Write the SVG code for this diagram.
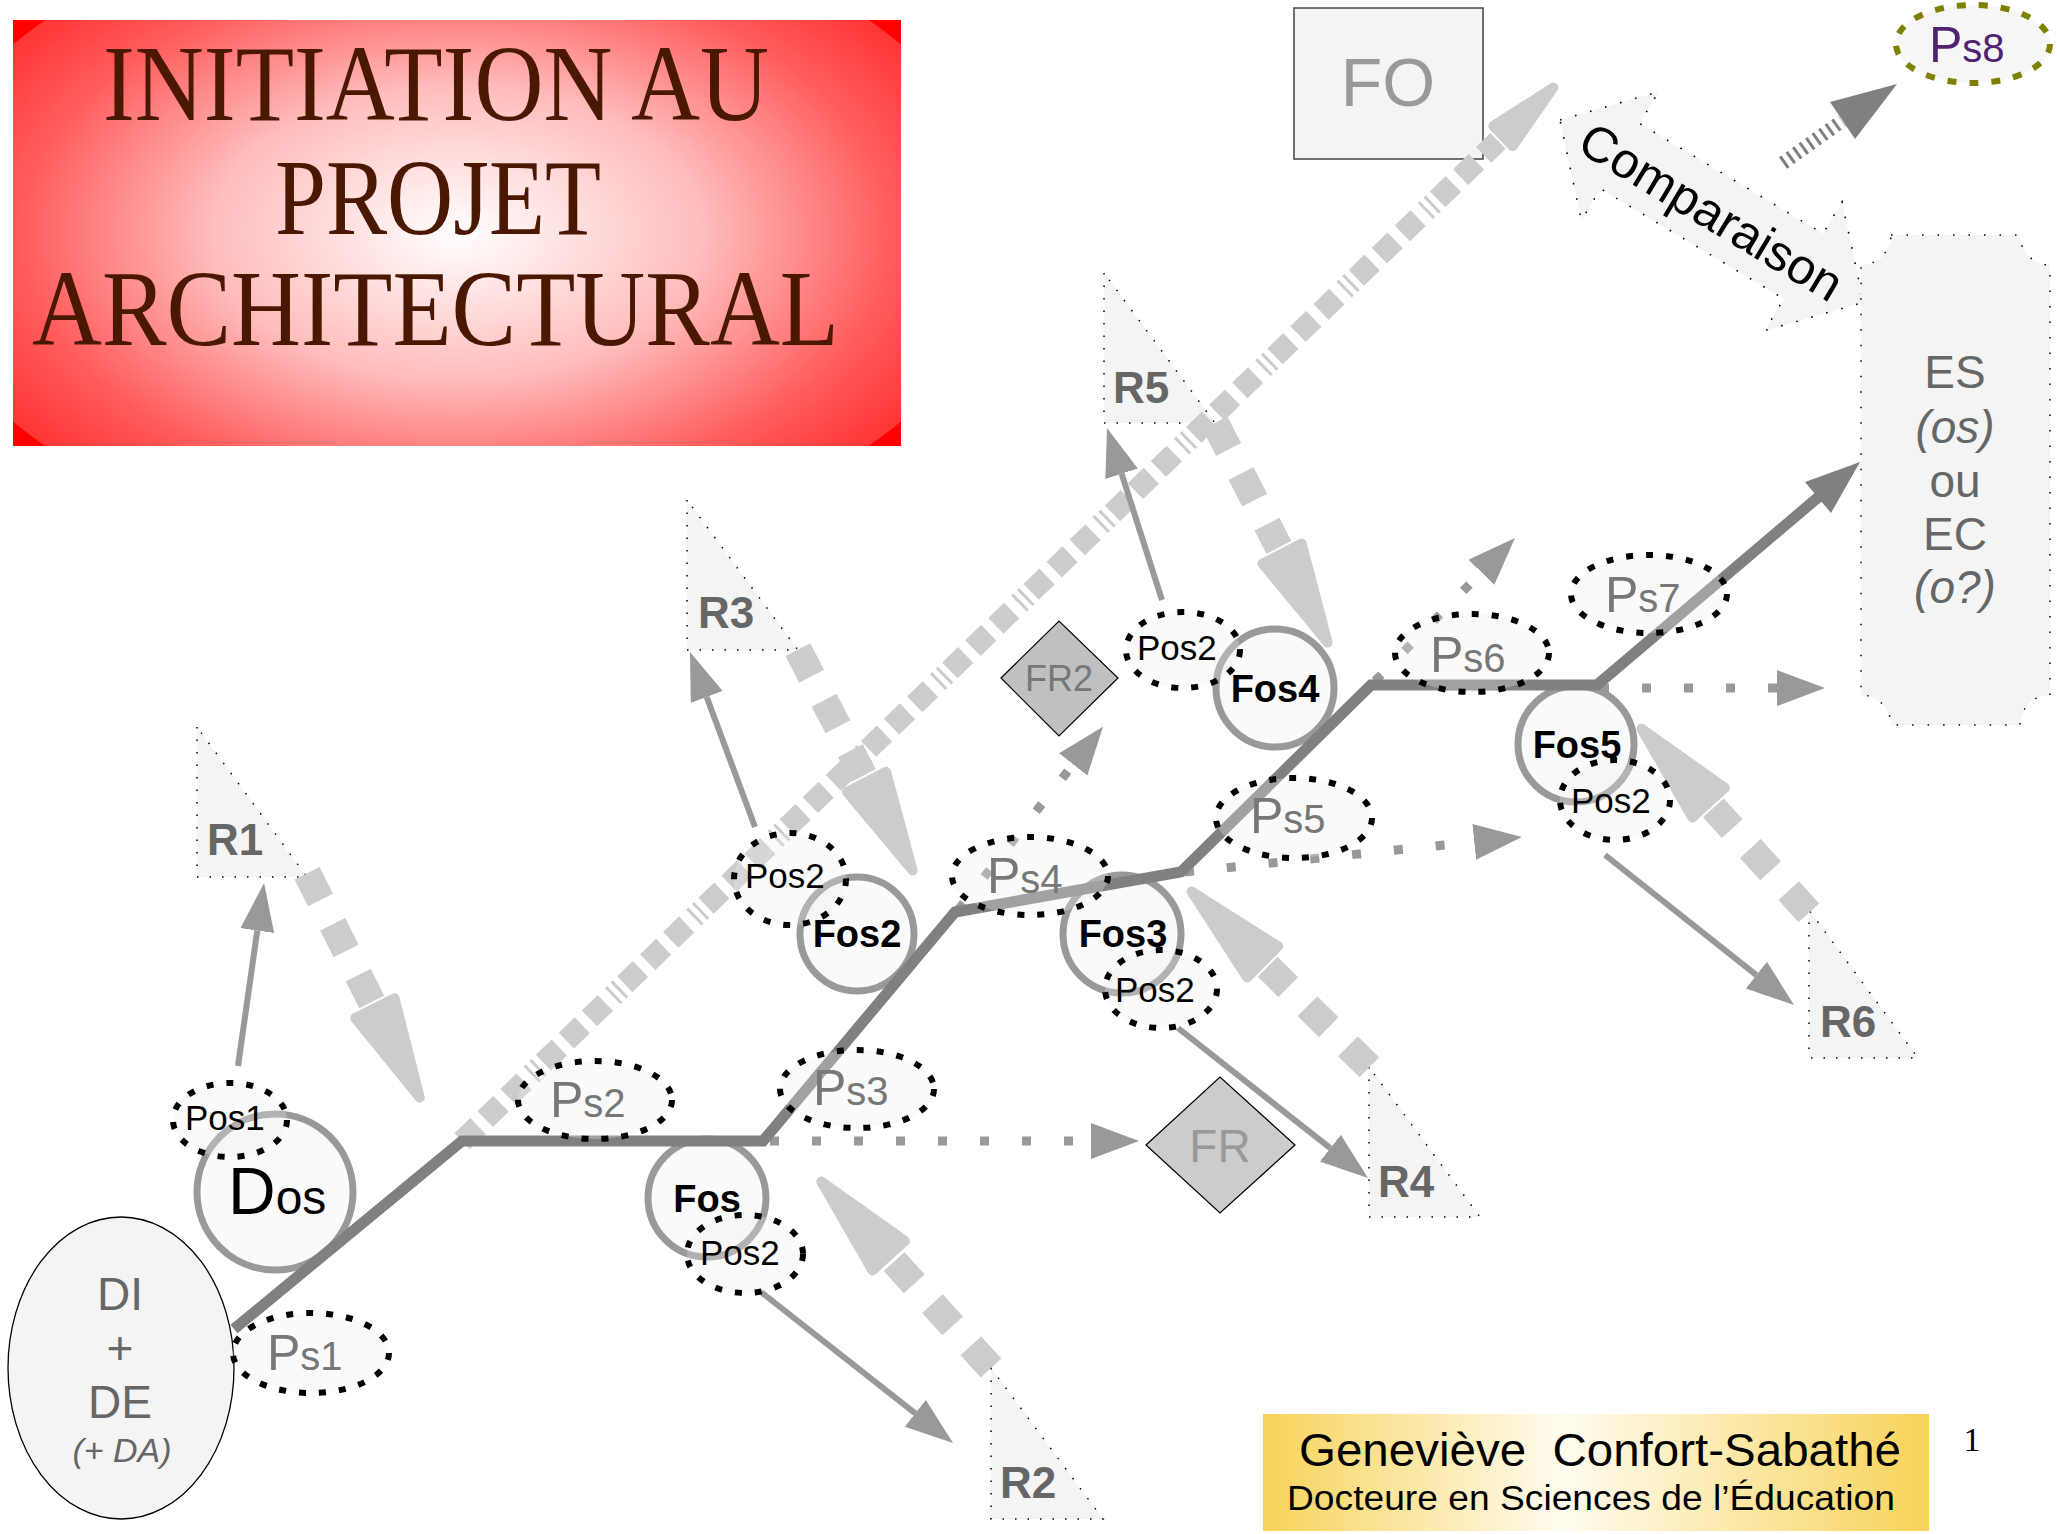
<svg xmlns="http://www.w3.org/2000/svg" width="2057" height="1534" viewBox="0 0 2057 1534">
<style>
.lbl{font-family:"Liberation Sans",Arial,sans-serif}
.ps{fill:#777}
.pos{fill:#000;font-size:35px}
.fos{font-weight:bold;font-size:38px;text-anchor:middle;fill:#000}
.r{font-weight:bold;font-size:44px;fill:#666}
.dell{fill:#eeeeee;fill-opacity:.3;stroke:#000;stroke-width:6;stroke-dasharray:7 13}
.circ{fill:#fafafa;stroke:#999;stroke-width:7}
.tri{fill:#f4f4f4;stroke:#000;stroke-width:1.5;stroke-dasharray:1.5 11}
.rdash{stroke:#ccc;stroke-width:28;stroke-dasharray:30 27;fill:none}
.rhead{fill:#ccc;stroke:#ccc;stroke-width:10;stroke-linejoin:round}
.thin{stroke:#999;stroke-width:6;fill:none;marker-end:url(#mThin)}
.dot{stroke:#999;stroke-width:9;stroke-dasharray:9 33;fill:none;marker-end:url(#mDot)}
.big{fill:#666;font-size:46px;text-anchor:middle}
</style>
<defs>
<radialGradient id="gTitle" gradientUnits="userSpaceOnUse" cx="457" cy="233" r="545" gradientTransform="translate(457,233) scale(1,0.596) translate(-457,-233)">
<stop offset="0" stop-color="#ffffff"/>
<stop offset="0.45" stop-color="#ffbcbc"/>
<stop offset="0.8" stop-color="#ff5c5c"/>
<stop offset="1" stop-color="#ff3535"/>
</radialGradient>
<clipPath id="cTitle"><rect x="13" y="20" width="888" height="426"/></clipPath>
<linearGradient id="gAuth" x1="0" y1="0" x2="1" y2="0">
<stop offset="0" stop-color="#f7d35a"/>
<stop offset="0.45" stop-color="#fffcf0"/>
<stop offset="1" stop-color="#f7d35a"/>
</linearGradient>
<marker id="mThin" markerUnits="userSpaceOnUse" markerWidth="50" markerHeight="36" refX="0" refY="17" orient="auto"><path d="M0,0 L48,17 L0,34 Z" fill="#999"/></marker>
<marker id="mDot" markerUnits="userSpaceOnUse" markerWidth="50" markerHeight="38" refX="0" refY="18" orient="auto"><path d="M0,0 L48,18 L0,36 Z" fill="#999"/></marker>
</defs>

<g id="title">
<rect x="13" y="20" width="888" height="426" fill="#ff0000"/>
<ellipse cx="457" cy="233" rx="545" ry="325" fill="url(#gTitle)" clip-path="url(#cTitle)"/>
<g font-family="'Liberation Serif','Times New Roman',serif" font-size="108" fill="#4a1800">
<text x="103" y="120" textLength="666" lengthAdjust="spacingAndGlyphs">INITIATION AU</text>
<text x="275" y="234" textLength="326" lengthAdjust="spacingAndGlyphs">PROJET</text>
<text x="32" y="345" textLength="807" lengthAdjust="spacingAndGlyphs">ARCHITECTURAL</text>
</g>
</g>

<g id="FO">
<rect x="1294" y="8" width="189" height="151" fill="#f4f4f4" stroke="#444" stroke-width="1.5"/>
<text class="lbl" x="1388" y="106" font-size="68" fill="#999" text-anchor="middle">FO</text>
</g>

<g id="Ps8">
<ellipse cx="1973" cy="44" rx="77" ry="39" fill="#f6f6f6" stroke="#808000" stroke-width="6" stroke-dasharray="9 13"/>
<text class="lbl" x="1929" y="62" fill="#4f2371"><tspan font-size="50">P</tspan><tspan font-size="40">s8</tspan></text>
</g>

<g id="comparaison" transform="translate(1560,120) rotate(31)">
<path d="M0,0 L70,-75 L70,-38 L284,-38 L284,-75 L354,0 L284,75 L284,38 L70,38 L70,75 Z" fill="#f4f4f4" stroke="#000" stroke-width="1.6" stroke-dasharray="1.6 14"/>
<text class="lbl" x="177" y="18" font-size="50" text-anchor="middle" fill="#000">Comparaison</text>
</g>

<g id="ES">
<path d="M1891,235 H2020 A30,30 0 0 0 2050,265 V695 A30,30 0 0 0 2020,725 H1891 A30,30 0 0 0 1861,695 V265 A30,30 0 0 0 1891,235 Z" fill="#f4f4f4" stroke="#000" stroke-width="1.5" stroke-dasharray="1.5 14"/>
<g class="lbl big">
<text x="1955" y="388">ES</text>
<text x="1955" y="443" font-style="italic">(os)</text>
<text x="1955" y="497">ou</text>
<text x="1955" y="550">EC</text>
<text x="1955" y="603" font-style="italic">(o?)</text>
</g>
</g>

<g id="DI">
<ellipse cx="121" cy="1368" rx="113" ry="151" fill="#f4f4f4" stroke="#000" stroke-width="1.3"/>
<g class="lbl big">
<text x="120" y="1310">DI</text>
<text x="120" y="1364">+</text>
<text x="120" y="1418">DE</text>
<text x="122" y="1462" font-size="34" font-style="italic">(+ DA)</text>
</g>
</g>

<g id="R1"><polygon class="tri" points="197,727 197,877 307,877"/><text class="lbl r" x="207" y="855">R1</text></g>
<g id="R2"><polygon class="tri" points="991,1368 991,1519 1103,1519"/><text class="lbl r" x="1000" y="1498">R2</text></g>
<g id="R3"><polygon class="tri" points="687,500 687,650 798,650"/><text class="lbl r" x="698" y="628">R3</text></g>
<g id="R4"><polygon class="tri" points="1369,1067 1369,1217 1480,1217"/><text class="lbl r" x="1378" y="1197">R4</text></g>
<g id="R5"><polygon class="tri" points="1104,273 1104,423 1215,423"/><text class="lbl r" x="1113" y="403">R5</text></g>
<g id="R6"><polygon class="tri" points="1809,910 1809,1058 1918,1058"/><text class="lbl r" x="1820" y="1037">R6</text></g>

<g id="FR">
<polygon points="1146,1145 1220,1077 1295,1145 1220,1213" fill="#cccccc" stroke="#000" stroke-width="1.2"/>
<text class="lbl" x="1220" y="1162" font-size="46" fill="#999" text-anchor="middle">FR</text>
</g>
<g id="FR2">
<polygon points="1001,678 1059,621 1118,678 1059,736" fill="#c0c0c0" stroke="#000" stroke-width="1.2"/>
<text class="lbl" x="1059" y="691" font-size="36" fill="#777" text-anchor="middle">FR2</text>
</g>

<g id="Dos">
<circle class="circ" cx="275" cy="1192" r="78"/>
<text class="lbl" x="228" y="1214" fill="#000"><tspan font-size="66">D</tspan><tspan font-size="48">os</tspan></text>
</g>
<g id="Fos"><circle class="circ" cx="707" cy="1198" r="59"/><text class="lbl fos" x="707" y="1212">Fos</text></g>
<g id="Fos2"><circle class="circ" cx="857" cy="934" r="57"/><text class="lbl fos" x="857" y="947">Fos2</text></g>
<g id="Fos3"><circle class="circ" cx="1122" cy="934" r="59"/><text class="lbl fos" x="1123" y="947">Fos3</text></g>
<g id="Fos4"><circle class="circ" cx="1275" cy="688" r="59"/><text class="lbl fos" x="1275" y="702">Fos4</text></g>
<g id="Fos5"><circle class="circ" cx="1576" cy="744" r="58"/><text class="lbl fos" x="1577" y="758">Fos5</text></g>

<g id="connectors">
<g transform="translate(1557,84) rotate(136)">
<line x1="1522" y1="0" x2="82" y2="0" stroke="#ccc" stroke-width="22" stroke-dasharray="22 10 22 10 22 10 3 5 3 6"/>
<polygon class="rhead" points="5,0 75,-14 75,14"/>
</g>
<g transform="translate(422,1102) rotate(-116.67)"><line class="rdash" x1="256" y1="0" x2="112" y2="0"/><polygon class="rhead" points="5,0 105,-22 105,22"/></g>
<g transform="translate(818,1178) rotate(47.68)"><line class="rdash" x1="257" y1="0" x2="112" y2="0"/><polygon class="rhead" points="5,0 105,-22 105,22"/></g>
<g transform="translate(915,875) rotate(-117.47)"><line class="rdash" x1="254" y1="0" x2="112" y2="0"/><polygon class="rhead" points="5,0 105,-22 105,22"/></g>
<g transform="translate(1188,888) rotate(44.68)"><line class="rdash" x1="255" y1="0" x2="112" y2="0"/><polygon class="rhead" points="5,0 105,-22 105,22"/></g>
<g transform="translate(1330,647) rotate(-117.17)"><line class="rdash" x1="252" y1="0" x2="112" y2="0"/><polygon class="rhead" points="5,0 105,-22 105,22"/></g>
<g transform="translate(1638,725) rotate(47.71)"><line class="rdash" x1="254" y1="0" x2="112" y2="0"/><polygon class="rhead" points="5,0 105,-22 105,22"/></g>

<line class="thin" x1="238" y1="1066" x2="257.3" y2="930.5"/>
<line class="thin" x1="761" y1="1292" x2="915.3" y2="1413.3"/>
<line class="thin" x1="755" y1="827" x2="706.7" y2="697"/>
<line class="thin" x1="1178" y1="1028" x2="1330.3" y2="1148.2"/>
<line class="thin" x1="1162" y1="600" x2="1121.6" y2="473.7"/>
<line class="thin" x1="1605" y1="855" x2="1756.4" y2="975.1"/>

<line class="dot" x1="770" y1="1141" x2="1091" y2="1141"/>
<line class="dot" x1="958" y1="910" x2="1073.2" y2="764.4"/>
<line class="dot" x1="1185" y1="872" x2="1474.2" y2="841.9"/>
<line class="dot" x1="1375" y1="681" x2="1481.4" y2="572.3"/>
<line class="dot" x1="1600" y1="688" x2="1777" y2="688"/>

<line x1="1783" y1="163" x2="1842" y2="121" stroke="#808080" stroke-width="14" stroke-dasharray="3 5"/>
<polygon points="1897,84 1830,102 1855,139" fill="#808080"/>

<polyline points="234,1329 462,1141 763,1141 955,912 1181,872 1371,685 1597,685 1822,494" fill="none" stroke="#808080" stroke-width="11"/>
<polygon points="1860,462 1831,513 1805,482" fill="#808080"/>
</g>

<g id="Ps1"><ellipse class="dell" cx="311" cy="1353" rx="78" ry="40"/><text class="lbl ps" x="267" y="1370"><tspan font-size="50">P</tspan><tspan font-size="40">s1</tspan></text></g>
<g id="Ps2"><ellipse class="dell" cx="595" cy="1100" rx="77" ry="39"/><text class="lbl ps" x="550" y="1117"><tspan font-size="50">P</tspan><tspan font-size="40">s2</tspan></text></g>
<g id="Ps3"><ellipse class="dell" cx="857" cy="1089" rx="77" ry="39"/><text class="lbl ps" x="813" y="1105"><tspan font-size="50">P</tspan><tspan font-size="40">s3</tspan></text></g>
<g id="Ps4"><ellipse class="dell" cx="1030" cy="876" rx="78" ry="39"/><text class="lbl ps" x="987" y="893"><tspan font-size="50">P</tspan><tspan font-size="40">s4</tspan></text></g>
<g id="Ps5"><ellipse class="dell" cx="1294" cy="818" rx="78" ry="40"/><text class="lbl ps" x="1250" y="833"><tspan font-size="50">P</tspan><tspan font-size="40">s5</tspan></text></g>
<g id="Ps6"><ellipse class="dell" cx="1472" cy="653" rx="77" ry="39"/><text class="lbl ps" x="1430" y="672"><tspan font-size="50">P</tspan><tspan font-size="40">s6</tspan></text></g>
<g id="Ps7"><ellipse class="dell" cx="1649" cy="594" rx="78" ry="39"/><text class="lbl ps" x="1605" y="612"><tspan font-size="50">P</tspan><tspan font-size="40">s7</tspan></text></g>

<g id="Pos1"><ellipse class="dell" cx="230" cy="1120" rx="57" ry="37"/><text class="lbl pos" x="185" y="1130">Pos1</text></g>
<g id="Pos2-Fos"><ellipse class="dell" cx="745" cy="1254" rx="58" ry="39"/><text class="lbl pos" x="700" y="1265">Pos2</text></g>
<g id="Pos2-Fos2"><ellipse class="dell" cx="790" cy="879" rx="56" ry="46"/><text class="lbl pos" x="745" y="888">Pos2</text></g>
<g id="Pos2-Fos3"><ellipse class="dell" cx="1161" cy="989" rx="56" ry="39"/><text class="lbl pos" x="1115" y="1002">Pos2</text></g>
<g id="Pos2-Fos4"><ellipse class="dell" cx="1183" cy="650" rx="57" ry="38"/><text class="lbl pos" x="1137" y="660">Pos2</text></g>
<g id="Pos2-Fos5"><ellipse class="dell" cx="1615" cy="800" rx="55" ry="40"/><text class="lbl pos" x="1571" y="813">Pos2</text></g>

<g id="author">
<rect x="1263" y="1414" width="666" height="117" fill="url(#gAuth)"/>
<text class="lbl" x="1299" y="1466" font-size="46" fill="#000" textLength="602" lengthAdjust="spacingAndGlyphs">Geneviève&#160; Confort-Sabathé</text>
<text class="lbl" x="1287" y="1510" font-size="35" fill="#000" textLength="608" lengthAdjust="spacingAndGlyphs">Docteure en Sciences de l’Éducation</text>
</g>
<g id="page"><text x="1972" y="1451" font-family="'Liberation Serif','Times New Roman',serif" font-size="34" text-anchor="middle" fill="#000">1</text></g>
</svg>
